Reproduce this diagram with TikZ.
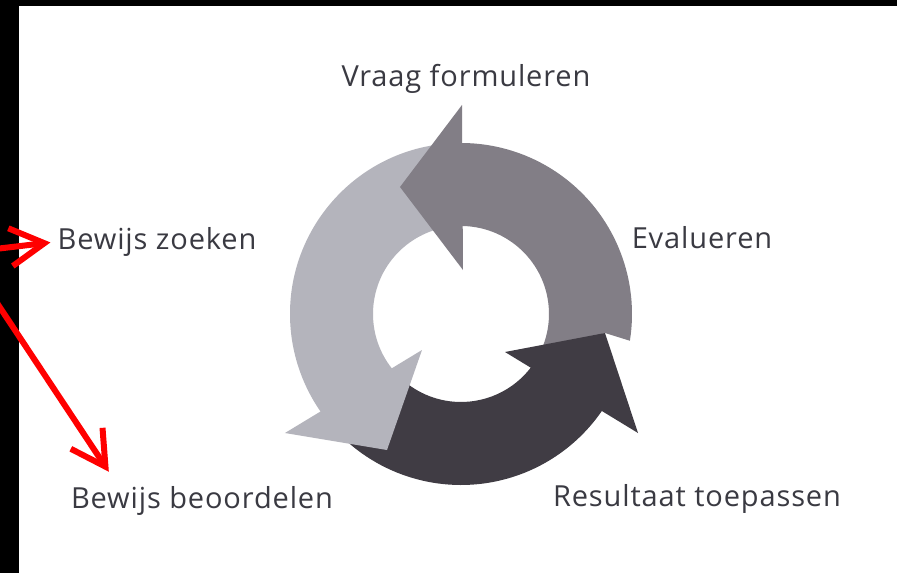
\documentclass[tikz,border=0pt]{standalone}
\usepackage{fontspec}
\setmainfont{Open Sans}[LetterSpace=3]
\usetikzlibrary{arrows.meta}
\definecolor{ringlight}{RGB}{180,180,188}
\definecolor{ringmid}{RGB}{130,126,134}
\definecolor{ringdark}{RGB}{64,60,68}
\definecolor{labeltext}{RGB}{58,58,66}

\begin{document}
\begin{tikzpicture}[x=1pt, y=1pt,
    lbl/.style={font=\fontsize{29}{32}\selectfont, text=labeltext, inner sep=0pt, anchor=base},
    pointer/.style={red, line width=6pt, line cap=round, -{Straight Barb[length=34pt, width=38pt]}}]
    \useasboundingbox (-461,-259) rectangle (436,314);
    \fill[white] (-461,-259) rectangle (436,314);

    % Scan frame
    \fill[black] (-461,-259) rectangle (-442,314);
    \fill[black] (-461,308) rectangle (436,314);

    % Ring bodies (centre at origin)
    \fill[ringmid] (-9:171) arc[start angle=-9, end angle=92, radius=171]
        -- (92:88) arc[start angle=92, end angle=-25, radius=88]
        -- (144,-19) -- cycle;
    \fill[ringlight] (95:171) arc[start angle=95, end angle=222, radius=171]
        -- (222:88) arc[start angle=222, end angle=95, radius=88] -- cycle;
    \fill[ringdark] (225:171) arc[start angle=225, end angle=328, radius=171]
        -- (328:88) arc[start angle=328, end angle=225, radius=88] -- cycle;

    % Arrow heads
    \fill[ringmid] (1,209) -- (-61,127) -- (2,44) -- cycle;
    \fill[ringlight] (-176,-119) -- (-74,-136) -- (-39,-36) -- cycle;
    \fill[ringdark] (44,-38) -- (144,-19) -- (177,-119) -- cycle;

    % Labels
    \node[lbl] (vraag) at (5,227) {Vraag formuleren};
    \node[lbl] (zoek) at (-304,64) {Bewijs zoeken};
    \node[lbl] (eval) at (241,65) {Evalueren};
    \node[lbl] (beoord) at (-259,-194) {Bewijs beoordelen};
    \node[lbl] (result) at (236,-192) {Resultaat toepassen};

    % Red pointers
    \coordinate (zoekstart) at (-466,65);
    \coordinate (beoordstart) at (-466,14);
    \draw[pointer] (zoekstart) -- ([xshift=-7pt]zoek.west);
    \draw[pointer] (beoordstart) -- ([xshift=38pt, yshift=14pt]beoord.north west);
\end{tikzpicture}
\end{document}
